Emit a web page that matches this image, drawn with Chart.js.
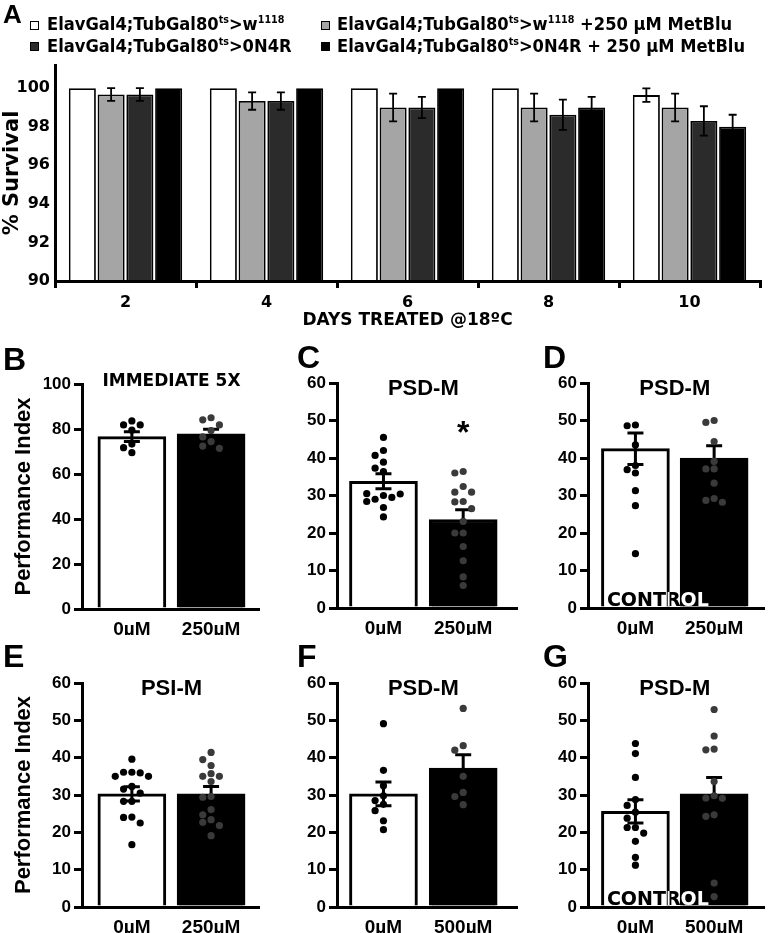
<!DOCTYPE html>
<html>
<head>
<meta charset="utf-8">
<script src="https://cdn.jsdelivr.net/npm/chart.js@4.4.1/dist/chart.umd.min.js"></script>
<style>
  html, body { margin: 0; padding: 0; background: #fff; }
  #fig { position: relative; width: 770px; height: 933px; overflow: hidden; }
  canvas { position: absolute; }
  .leg { position: absolute; font: bold 17px "DejaVu Sans"; line-height: 20px; white-space: nowrap;
         transform: scaleX(0.96); transform-origin: 0 0; color: #000; }
  .leg sup { font-size: 10px; vertical-align: 0; position: relative; top: -7px; }
  .sw { position: absolute; width: 9px; height: 9px; border: 1px solid #000; box-sizing: border-box; }
  #lblA { position: absolute; left: 3px; top: -1px; font: bold 26px "Liberation Sans"; }
</style>
</head>
<body>
<div id="fig">
  <canvas id="cA" width="770" height="335" style="left:0;top:0"></canvas>
  <canvas id="cB" width="263" height="300" style="left:0;top:335px"></canvas>
  <canvas id="cC" width="259" height="300" style="left:262px;top:335px"></canvas>
  <canvas id="cD" width="258" height="300" style="left:510px;top:335px"></canvas>
  <canvas id="cE" width="263" height="298" style="left:0;top:635px"></canvas>
  <canvas id="cF" width="259" height="298" style="left:262px;top:635px"></canvas>
  <canvas id="cG" width="258" height="298" style="left:510px;top:635px"></canvas>

  <div id="lblA">A</div>
  <div class="sw" style="left:30px;top:21px;background:#fff"></div>
  <div class="leg" style="left:47px;top:14px">ElavGal4;TubGal80<sup>ts</sup>&gt;w<sup>1118</sup></div>
  <div class="sw" style="left:321px;top:21px;background:#a5a5a5"></div>
  <div class="leg" style="left:337px;top:14px">ElavGal4;TubGal80<sup>ts</sup>&gt;w<sup>1118</sup> +250 µM MetBlu</div>
  <div class="sw" style="left:30px;top:42px;background:#2b2b2b"></div>
  <div class="leg" style="left:47px;top:36px">ElavGal4;TubGal80<sup>ts</sup>&gt;0N4R</div>
  <div class="sw" style="left:321px;top:42px;background:#000"></div>
  <div class="leg" style="left:337px;top:36px">ElavGal4;TubGal80<sup>ts</sup>&gt;0N4R + 250 µM MetBlu</div>
</div>

<script>
// panel A: survival
const days = ['2', '4', '6', '8', '10'];
const yTicksA = [90, 92, 94, 96, 98, 100];
const ctrlW = [100, 100, 100, 100, 99.64];
const ctrlWErr = [0, 0, 0, 0, 0.35];
const metW = [99.67, 99.33, 99.0, 99.0, 99.0];
const metWErr = [0.33, 0.45, 0.72, 0.72, 0.72];
const ctrlTau = [99.67, 99.33, 99.0, 98.62, 98.3];
const ctrlTauErr = [0.33, 0.45, 0.55, 0.78, 0.76];
const metTau = [100, 100, 100, 99.0, 98.0];
const metTauErr = [0, 0, 0, 0.55, 0.62];

// panels B-G: performance index
const doseLow = ['0µM', '250µM'];
const doseHigh = ['0µM', '500µM'];

const bMeans = [76.6, 77.8], bSem = [2.2, 2.1];
const bDots0 = [83.6, 81.8, 81.8, 79.5, 73.3, 71.7, 69.5];
const bDots1 = [85.0, 84.1, 81.8, 79.3, 76.5, 74.4, 72.4, 71.4];

const cMeans = [33.8, 23.6], cSem = [2.0, 2.6];
const cDots0 = [45.5, 42.0, 40.7, 38.9, 37.3, 36.4, 30.0, 29.0, 29.5, 30.5, 30.4, 28.4, 26.8, 24.3];
const cDots1 = [36.4, 36.0, 32.4, 30.9, 30.9, 28.4, 28.3, 26.5, 23.1, 20.0, 20.0, 16.4, 12.6, 8.3, 6.0];
const cStar = 48.9;

const dMeans = [42.5, 40.0], dSem = [4.2, 3.3];
const dDots0 = [48.8, 48.6, 43.5, 38.0, 36.9, 36.0, 31.3, 27.3, 14.5];
const dDots1 = [50.0, 49.5, 44.4, 39.1, 37.1, 37.1, 33.3, 29.2, 28.7, 28.2];

const eMeans = [30.3, 30.3], eSem = [1.9, 2.0];
const eDots0 = [39.6, 36.1, 36.1, 35.9, 35.0, 35.0, 32.3, 31.6, 30.5, 28.3, 28.3, 24.1, 24.0, 22.5, 16.7];
const eDots1 = [41.4, 39.5, 37.9, 35.7, 35.0, 35.0, 33.6, 29.6, 29.4, 26.1, 24.7, 23.4, 22.7, 21.8, 19.1];

const fMeans = [30.3, 37.2], fSem = [3.2, 3.6];
const fDots0 = [49.1, 36.6, 32.5, 29.8, 28.5, 27.5, 25.8, 23.1, 20.7];
const fDots1 = [53.2, 43.2, 42.0, 35.0, 30.7, 29.6, 27.4];

const gMeans = [25.6, 30.3], gSem = [3.1, 4.4];
const gDots0 = [43.8, 41.1, 34.7, 28.8, 27.2, 25.4, 23.8, 21.3, 21.3, 19.8, 17.6, 13.3, 11.2];
const gDots1 = [52.9, 45.8, 42.3, 42.1, 33.6, 29.8, 29.2, 29.1, 24.7, 24.3, 6.4, 2.8];

Chart.defaults.color = '#000';
Chart.defaults.animation = false;

const boldFont = (family, size) => ({ family: family, weight: 'bold', size: size });

// ---------- panel A ----------
const seriesA = [ctrlW, metW, ctrlTau, metTau];
const errsA = [ctrlWErr, metWErr, ctrlTauErr, metTauErr];
const colorsA = ['#ffffff', '#a5a5a5', '#2b2b2b', '#000000'];

const errBarsA = {
  id: 'errBarsA',
  afterDatasetsDraw(chart) {
    const ctx = chart.ctx, ys = chart.scales.y;
    ctx.save();
    ctx.strokeStyle = '#000';
    ctx.lineWidth = 1.8;
    errsA.forEach((errs, di) => {
      const meta = chart.getDatasetMeta(di);
      errs.forEach((e, j) => {
        if (!e) return;
        const v = seriesA[di][j];
        const x = meta.data[j].x;
        const y1 = ys.getPixelForValue(v - e), y2 = ys.getPixelForValue(v + e);
        ctx.beginPath();
        ctx.moveTo(x, y1); ctx.lineTo(x, y2);
        ctx.moveTo(x - 4, y1); ctx.lineTo(x + 4, y1);
        ctx.moveTo(x - 4, y2); ctx.lineTo(x + 4, y2);
        ctx.stroke();
      });
    });
    ctx.restore();
  }
};

new Chart(document.getElementById('cA'), {
  type: 'bar',
  data: {
    labels: days,
    datasets: seriesA.map((vals, i) => ({
      data: vals,
      backgroundColor: colorsA[i],
      borderColor: '#000',
      borderWidth: 1.8
    }))
  },
  options: {
    responsive: false,
    layout: { padding: { top: 65, right: 10, left: 0, bottom: 0 } },
    datasets: { bar: { categoryPercentage: 0.816, barPercentage: 0.94 } },
    scales: {
      x: {
        grid: { display: true, drawOnChartArea: false, drawTicks: true, tickLength: 7, lineWidth: 3, color: '#000', offset: true },
        border: { width: 3, color: '#000', z: 1 },
        ticks: { font: boldFont('DejaVu Sans', 16), padding: 5 },
        title: { display: true, text: 'DAYS TREATED @18ºC', font: boldFont('DejaVu Sans', 17), padding: { top: 0, bottom: 4 } },
        afterFit: s => { s.height = 54; }
      },
      y: {
        min: 90, max: 101.2,
        afterBuildTicks: s => { s.ticks = yTicksA.map(v => ({ value: v })); },
        grid: { drawOnChartArea: false, drawTicks: false },
        border: { width: 3, color: '#000', z: 1 },
        ticks: { font: boldFont('DejaVu Sans', 16), padding: 5 },
        title: { display: true, text: '% Survival', font: boldFont('DejaVu Sans', 21), padding: { top: 0, bottom: 0 } },
        afterFit: s => { s.width = 55; }
      }
    },
    plugins: { legend: { display: false }, tooltip: { enabled: false } }
  },
  plugins: [errBarsA]
});

// ---------- panels B-G ----------
// simple beeswarm: spread dots sideways when they would overlap
function swarm(vals, center, yMax) {
  const dx = 0.105, dy = yMax * 7.4 / 224;
  const pts = [];
  vals.forEach(v => {
    for (let k = 0; k < 40; k++) {
      const off = k === 0 ? 0 : (k % 2 ? -1 : 1) * Math.ceil(k / 2) * dx;
      const hit = pts.some(p => Math.abs(p.x - center - off) < dx * 0.9 && Math.abs(p.y - v) < dy);
      if (!hit) { pts.push({ x: center + off, y: v }); break; }
    }
  });
  return pts;
}

function panel(id, o) {
  const cv = document.getElementById(id);
  const w = cv.width, h = cv.height;
  const xmin = -(o.px0 - o.axisX) / o.unit;
  const xmax = xmin + (w - o.axisX) / o.unit;
  const pts0 = swarm(o.dots[0], 0, o.yMax);
  const pts1 = swarm(o.dots[1], 1, o.yMax);
  const dotColors = pts0.map(() => '#000').concat(pts1.map(() => '#3a3a3a'));

  const deco = {
    id: 'deco',
    beforeDraw(chart) {
      const a = chart.chartArea, ctx = chart.ctx;
      ctx.save();
      ctx.fillStyle = '#fff';
      ctx.fillRect(a.left, a.top, a.right - a.left, a.bottom - a.top);
      ctx.restore();
    },
    afterDatasetDraw(chart, args) {
      if (args.index !== 0) return;
      const ctx = chart.ctx, xs = chart.scales.x, ys = chart.scales.y;
      ctx.save();
      ctx.strokeStyle = '#000';
      ctx.lineWidth = 3;
      o.means.forEach((m, i) => {
        const x = xs.getPixelForValue(i);
        const y1 = ys.getPixelForValue(m - o.sems[i]), y2 = ys.getPixelForValue(m + o.sems[i]);
        ctx.beginPath();
        ctx.moveTo(x, y1); ctx.lineTo(x, y2);
        ctx.moveTo(x - 8, y1); ctx.lineTo(x + 8, y1);
        ctx.moveTo(x - 8, y2); ctx.lineTo(x + 8, y2);
        ctx.stroke();
      });
      ctx.restore();
    },
    afterDraw(chart) {
      const ctx = chart.ctx, xs = chart.scales.x, ys = chart.scales.y, a = chart.chartArea;
      ctx.save();
      ctx.fillStyle = '#000';
      ctx.textBaseline = 'alphabetic';
      ctx.textAlign = 'left';
      ctx.font = 'bold 32px "Liberation Sans"';
      ctx.fillText(o.letter, o.letterX, o.letterY);

      ctx.font = o.titleFont;
      ctx.textAlign = 'center';
      ctx.textBaseline = 'middle';
      ctx.fillText(o.title, xs.getPixelForValue(0.5), a.top + o.titleDy);

      if (o.star !== undefined) {
        ctx.font = 'bold 32px "Liberation Sans"';
        ctx.textBaseline = 'alphabetic';
        ctx.fillText('*', xs.getPixelForValue(1), ys.getPixelForValue(o.star) + 18.5);
      }
      if (o.control) {
        ctx.globalCompositeOperation = 'difference';
        ctx.fillStyle = '#fff';
        ctx.font = 'bold 19px "DejaVu Sans"';
        ctx.textAlign = 'left';
        ctx.textBaseline = 'alphabetic';
        ctx.fillText('CONTROL', xs.getPixelForValue(0) - 28.5, a.bottom - 2);
      }
      ctx.restore();
    }
  };

  new Chart(cv, {
    type: 'bar',
    data: {
      datasets: [
        {
          type: 'bar',
          data: o.means.map((m, i) => ({ x: i, y: m })),
          backgroundColor: ['#ffffff', '#000000'],
          borderColor: '#000',
          borderWidth: 3,
          barThickness: 68,
          order: 1
        },
        {
          type: 'scatter',
          data: pts0.concat(pts1),
          pointRadius: 3.6,
          pointBackgroundColor: dotColors,
          pointBorderWidth: 0,
          order: 0
        }
      ]
    },
    options: {
      responsive: false,
      layout: { padding: { top: o.top, left: 0, right: 0, bottom: 0 } },
      scales: {
        x: {
          type: 'linear', min: xmin, max: xmax, offset: false,
          afterBuildTicks: s => { s.ticks = o.labels.map((l, i) => ({ value: i })); },
          grid: { display: false, offset: false },
          border: { width: 3, color: '#000', z: 1 },
          ticks: { font: boldFont('Liberation Sans', 19), padding: 1, callback: v => o.labels[v] },
          afterFit: s => { s.height = h - o.bottom; }
        },
        y: {
          min: 0, max: o.yMax,
          ticks: { stepSize: 10, font: boldFont('Liberation Sans', 17), padding: 3 },
          grid: { drawOnChartArea: false, drawTicks: true, tickLength: 8, lineWidth: 3, color: '#000' },
          border: { width: 3, color: '#000', z: 1 },
          title: { display: !!o.yTitle, text: o.yTitle || '', font: boldFont('Liberation Sans', 22), padding: { top: 11, bottom: 0 } },
          afterFit: s => { s.width = o.axisX; }
        }
      },
      plugins: { legend: { display: false }, tooltip: { enabled: false } }
    },
    plugins: [deco]
  });
}

const titleBig = 'bold 22px "Liberation Sans"';

panel('cB', { labels: doseLow, means: bMeans, sems: bSem, dots: [bDots0, bDots1], yMax: 100,
  axisX: 82, px0: 133, unit: 81, top: 49, bottom: 274, letter: 'B', letterX: 3, letterY: 35,
  title: 'IMMEDIATE 5X', titleFont: 'bold 17px "DejaVu Sans"', titleDy: -2.5, yTitle: 'Performance Index' });
panel('cC', { labels: doseLow, means: cMeans, sems: cSem, dots: [cDots0, cDots1], yMax: 60,
  axisX: 75, px0: 122.5, unit: 81.5, top: 48, bottom: 273, letter: 'C', letterX: 35, letterY: 33,
  title: 'PSD-M', titleFont: titleBig, titleDy: 6, star: cStar });
panel('cD', { labels: doseLow, means: dMeans, sems: dSem, dots: [dDots0, dDots1], yMax: 60,
  axisX: 78, px0: 126.5, unit: 80.5, top: 48, bottom: 273, letter: 'D', letterX: 33, letterY: 33,
  title: 'PSD-M', titleFont: titleBig, titleDy: 6, control: true });
panel('cE', { labels: doseLow, means: eMeans, sems: eSem, dots: [eDots0, eDots1], yMax: 60,
  axisX: 82, px0: 133, unit: 81, top: 48, bottom: 272, letter: 'E', letterX: 3, letterY: 32,
  title: 'PSI-M', titleFont: titleBig, titleDy: 6, yTitle: 'Performance Index' });
panel('cF', { labels: doseHigh, means: fMeans, sems: fSem, dots: [fDots0, fDots1], yMax: 60,
  axisX: 75, px0: 122.5, unit: 81.5, top: 48, bottom: 272, letter: 'F', letterX: 35, letterY: 32,
  title: 'PSD-M', titleFont: titleBig, titleDy: 6 });
panel('cG', { labels: doseHigh, means: gMeans, sems: gSem, dots: [gDots0, gDots1], yMax: 60,
  axisX: 78, px0: 126.5, unit: 80.5, top: 48, bottom: 272, letter: 'G', letterX: 33, letterY: 32,
  title: 'PSD-M', titleFont: titleBig, titleDy: 6, control: true });
</script>
</body>
</html>
